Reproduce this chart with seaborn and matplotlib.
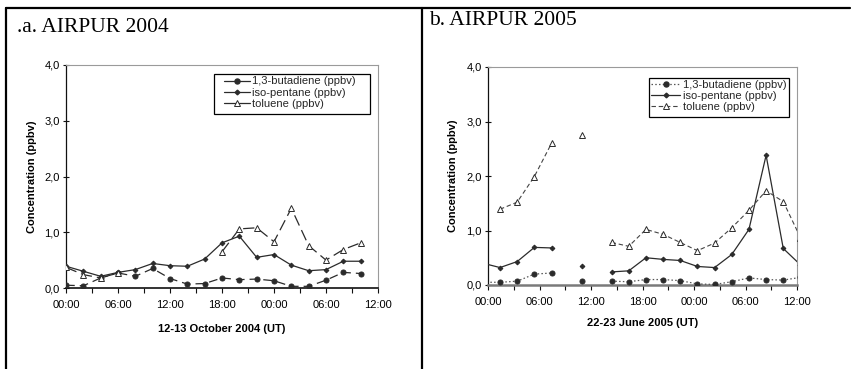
import numpy as np
import pandas as pd
import matplotlib
matplotlib.use("Agg")
import matplotlib.pyplot as plt
from matplotlib.lines import Line2D
from matplotlib.patches import Rectangle
import seaborn as sns

nan = np.nan

# ---- data: panel a (12-13 October 2004) ----
hours_2004 = [0, 2, 4, 6, 8, 10, 12, 14, 16, 18, 20, 22, 24, 26, 28, 30, 32, 34]
butadiene_2004 = [0.05, 0.04, 0.18, 0.27, 0.21, 0.35, 0.17, 0.07, 0.08, 0.18,
                  0.15, 0.16, 0.13, 0.03, 0.03, 0.14, 0.28, 0.26]
isopentane_2004 = [0.39, 0.30, 0.21, 0.28, 0.33, 0.44, 0.40, 0.39, 0.52, 0.81,
                   0.93, 0.55, 0.60, 0.41, 0.31, 0.33, 0.48, 0.48]
toluene_2004 = [0.37, 0.24, 0.18, 0.27, nan, nan, nan, nan, nan, 0.65,
                1.06, 1.08, 0.83, 1.43, 0.76, 0.50, 0.69, 0.81]

# ---- data: panel b (22-23 June 2005) ----
hours_2005 = [-0.6, 1.4, 3.4, 5.4, 7.4, 9.2, 11.0, 12.7, 14.4, 16.4, 18.4, 20.4,
              22.4, 24.4, 26.4, 28.4, 30.4, 32.4, 34.4, 36.4]
butadiene_2005 = [0.05, 0.05, 0.07, 0.20, 0.22, nan, 0.07, nan, 0.07, 0.06, 0.10, 0.10,
                  0.08, 0.02, 0.01, 0.06, 0.13, 0.10, 0.09, 0.14]
isopentane_2005 = [0.40, 0.32, 0.43, 0.69, 0.68, nan, 0.34, nan, 0.24, 0.26, 0.50, 0.47,
                   0.45, 0.34, 0.32, 0.56, 1.02, 2.38, 0.67, 0.37]
toluene_2005 = [nan, 1.39, 1.52, 1.99, 2.60, nan, 2.76, nan, 0.78, 0.71, 1.02, 0.93,
                0.78, 0.63, 0.77, 1.05, 1.37, 1.73, 1.53, 0.87]

series_labels = ["1,3-butadiene (ppbv)", "iso-pentane (ppbv)", "toluene (ppbv)"]
x_tick_hours = [0, 6, 12, 18, 24, 30, 36]
x_tick_labels = ["00:00", "06:00", "12:00", "18:00", "00:00", "06:00", "12:00"]
y_ticks = [0, 1, 2, 3, 4]
y_tick_labels = ["0,0", "1,0", "2,0", "3,0", "4,0"]

sns.set_theme(style="white")
plt.rcParams['font.family'] = ['Liberation Sans', 'DejaVu Sans']

W, H = 851, 369
fig = plt.figure(figsize=(W / 100, H / 100), dpi=100)

DARK = "#2b2b2b"
FS = 8


def plot_series(ax, x, y, style):
    x = np.asarray(x, float)
    y = np.asarray(y, float)
    ok = ~np.isnan(y)
    idx = np.where(ok)[0]
    if len(idx) == 0:
        return
    groups = np.split(idx, np.where(np.diff(idx) != 1)[0] + 1)
    for g in groups:
        df = pd.DataFrame({"x": x[g], "y": y[g]})
        sns.lineplot(data=df, x="x", y="y", ax=ax, estimator=None, sort=False,
                     legend=False, **style)


def style_axes(ax, bottom_color):
    ax.set_xlim(0, 36)
    ax.set_ylim(0, 4)
    ax.set_xticks(x_tick_hours)
    ax.set_xticklabels(x_tick_labels)
    ax.set_xticks([3, 9, 15, 21, 27, 33], minor=True)
    ax.set_yticks(y_ticks)
    ax.set_yticklabels(y_tick_labels)
    for side in ["top", "right"]:
        ax.spines[side].set_color("#9a9a9a")
        ax.spines[side].set_linewidth(0.8)
    ax.spines["left"].set_color("#111111")
    ax.spines["left"].set_linewidth(0.9)
    ax.spines["bottom"].set_color(bottom_color)
    ax.spines["bottom"].set_linewidth(1.2)
    ax.tick_params(axis="x", which="major", direction="out", length=3.5, width=0.8,
                   color="#111111", bottom=True, labelsize=FS, pad=5, labelcolor="black")
    ax.tick_params(axis="x", which="minor", direction="out", length=3.5, width=0.8,
                   color="#111111", bottom=True)
    ax.tick_params(axis="y", which="major", direction="inout", length=5, width=0.8,
                   color="#111111", left=True, labelsize=FS, pad=2, labelcolor="black")
    ax.set_ylabel("Concentration (ppbv)", fontsize=FS, fontweight="bold", color="black")
    ax.grid(False)
    ax.set_facecolor("white")


def px_to_axes(ax_box, px, py):
    x0, y0, w, h = ax_box  # pixel box: left, top, width, height
    return (px - x0) / w, (y0 + h - py) / h


def make_legend(ax, ax_box, styles, box_px, anchor_px, handlelength):
    handles = []
    for st, lab in zip(styles, series_labels):
        kw = dict(st)
        kw.pop("zorder", None)
        handles.append(Line2D([], [], label=lab, **kw))
    ax_anchor = px_to_axes(ax_box, *anchor_px)
    leg = ax.legend(handles=handles, loc="upper left", bbox_to_anchor=ax_anchor,
                    fontsize=FS, frameon=False, handlelength=handlelength,
                    handletextpad=0.2, labelspacing=0.12, borderpad=0.0,
                    borderaxespad=0.0)
    leg.set_zorder(10)
    bx0, by0, bx1, by1 = box_px
    ll = px_to_axes(ax_box, bx0, by1)
    ur = px_to_axes(ax_box, bx1, by0)
    rect = Rectangle(ll, ur[0] - ll[0], ur[1] - ll[1], transform=ax.transAxes,
                     facecolor="white", edgecolor="black", linewidth=0.9, zorder=9)
    ax.add_patch(rect)


# ---------- panel a ----------
box1 = (66, 65, 312, 223)
ax1 = fig.add_axes([66 / W, (H - 288) / H, 312 / W, 223 / H])
styles_a = [
    dict(color=DARK, linestyle=(0, (7, 4)), linewidth=0.9, marker="o", markersize=3.6,
         markerfacecolor=DARK, markeredgecolor=DARK, zorder=3),
    dict(color=DARK, linestyle="-", linewidth=0.9, marker="D", markersize=2.4,
         markerfacecolor=DARK, markeredgecolor=DARK, zorder=4),
    dict(color=DARK, linestyle=(0, (9, 4)), linewidth=0.9, marker="^", markersize=4.5,
         markerfacecolor="white", markeredgecolor=DARK, markeredgewidth=0.7, zorder=5),
]
for vals, st in zip([butadiene_2004, isopentane_2004, toluene_2004], styles_a):
    plot_series(ax1, hours_2004, vals, st)
style_axes(ax1, "#111111")
ax1.set_xlabel("12-13 October 2004 (UT)", fontsize=FS, fontweight="bold", color="black")
ax1.yaxis.set_label_coords(-0.0945, 0.5)
ax1.xaxis.set_label_coords(0.5, -0.163)
make_legend(ax1, box1, [dict(s, linestyle="-") for s in styles_a],
            (214, 74, 370, 114), (224, 76.5), 2.3)

# ---------- panel b ----------
box2 = (488, 67, 309, 218)
ax2 = fig.add_axes([488 / W, (H - 285) / H, 309 / W, 218 / H])
styles_b = [
    dict(color="#555555", linestyle=(0, (1.2, 1.8)), linewidth=0.9, marker="o", markersize=3.6,
         markerfacecolor=DARK, markeredgecolor=DARK, zorder=3),
    dict(color=DARK, linestyle="-", linewidth=0.9, marker="D", markersize=2.4,
         markerfacecolor=DARK, markeredgecolor=DARK, zorder=4),
    dict(color="#444444", linestyle=(0, (4, 2.5)), linewidth=0.8, marker="^", markersize=4.5,
         markerfacecolor="white", markeredgecolor=DARK, markeredgewidth=0.7, zorder=5),
]
for vals, st in zip([butadiene_2005, isopentane_2005, toluene_2005], styles_b):
    plot_series(ax2, hours_2005, vals, st)
style_axes(ax2, "#7a7a7a")
ax2.spines["bottom"].set_linewidth(1.8)
ax2.set_xlabel("22-23 June 2005 (UT)", fontsize=FS, fontweight="bold", color="black")
ax2.yaxis.set_label_coords(-0.0987, 0.5)
ax2.xaxis.set_label_coords(0.5, -0.152)
make_legend(ax2, box2, styles_b, (649, 78, 789, 117), (651, 79.5), 2.65)

# ---------- frame and titles ----------
lw_frame = 1.6
fig.add_artist(Line2D([6 / W, 850 / W], [1 - 8 / H, 1 - 8 / H], transform=fig.transFigure,
                      color="black", linewidth=lw_frame))
fig.add_artist(Line2D([6 / W, 6 / W], [0, 1 - 8 / H], transform=fig.transFigure,
                      color="black", linewidth=lw_frame))
fig.add_artist(Line2D([421.5 / W, 421.5 / W], [0, 1 - 8 / H], transform=fig.transFigure,
                      color="black", linewidth=lw_frame))

fig.text(17 / W, 1 - 27.5 / H, ".a. AIRPUR 2004", fontsize=15.5, va="center", ha="left",
         family=["Liberation Serif", "DejaVu Serif"], color="black")
fig.text(429 / W, 1 - 20.5 / H, "b. AIRPUR 2005", fontsize=15.5, va="center", ha="left",
         family=["Liberation Serif", "DejaVu Serif"], color="black")

fig.savefig("out.png", dpi=100, facecolor="white")
